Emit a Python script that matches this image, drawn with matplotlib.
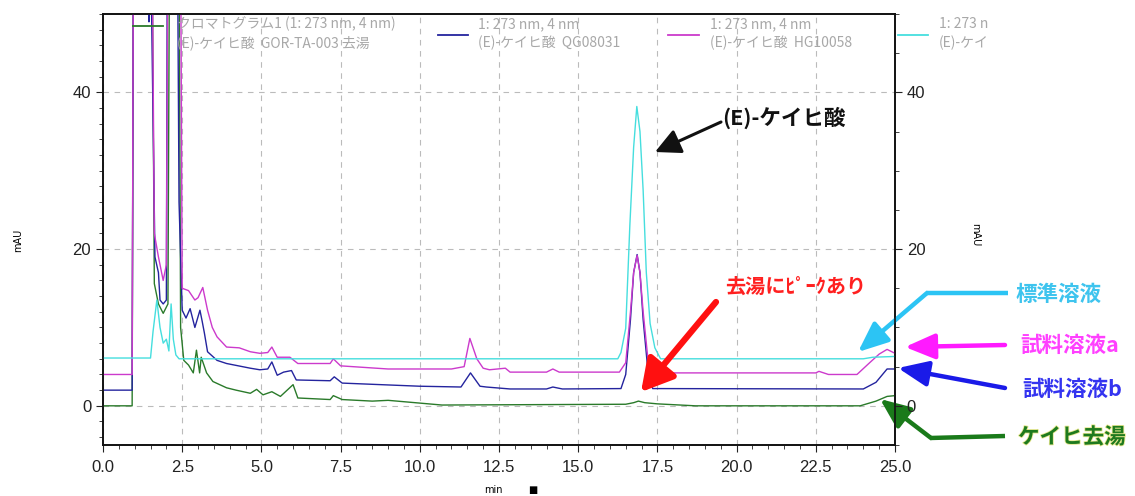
import matplotlib
matplotlib.use("Agg")
import matplotlib.pyplot as plt
from matplotlib.lines import Line2D
from matplotlib.ticker import MultipleLocator
import matplotlib.patheffects as pe

plt.rcParams['font.family'] = ['Noto Sans CJK JP', 'DejaVu Sans']

# ---------------- data ----------------
# standard solution (cyan)
t_std = [0, 1.50, 1.58, 1.70, 1.80, 1.90, 2.00, 2.08, 2.15, 2.22, 2.30, 2.40, 5.0, 10.0,
         16.25, 16.35, 16.5, 16.63, 16.75, 16.85, 16.95, 17.05, 17.15, 17.27, 17.42, 17.6,
         24.0, 24.3, 25.0]
y_std = [6.1, 6.1, 9.5, 13.5, 10.0, 8.0, 8.5, 7.0, 13.0, 8.5, 6.5, 6.0, 6.0, 6.0,
         6.0, 6.8, 9.9, 23.0, 33.0, 38.2, 35.0, 27.5, 17.0, 10.5, 7.4, 6.0,
         6.0, 6.2, 6.3]

# sample solution a (magenta)
t_a = [0, 0.92, 0.96, 1.55, 1.62, 1.75, 1.90, 2.00, 2.05, 2.45, 2.50, 2.7, 2.9, 3.0, 3.15,
       3.3, 3.45, 3.6, 3.9, 4.3, 4.65, 4.95, 5.2, 5.33, 5.5, 5.9, 6.15, 7.17, 7.27, 7.5,
       9.0, 11.0, 11.4, 11.58, 11.8, 12.0, 12.2, 12.7, 12.85, 14.0, 14.2, 14.4, 16.3, 16.5,
       16.65, 16.75, 16.86, 16.95, 17.05, 17.2, 17.35, 18.0, 22.5, 22.6, 22.9, 23.8, 24.2,
       24.5, 24.75, 25.0]
y_a = [4.0, 4.0, 60, 60, 22, 19, 16, 18, 60, 60, 15, 14.7, 13.5, 13.8, 15.1,
       12.2, 10, 8.8, 7.5, 7.4, 6.9, 6.7, 6.8, 7.5, 6.2, 6.2, 5.4, 5.4, 6.0, 5.1,
       4.7, 4.7, 5.0, 8.6, 6.0, 4.8, 4.6, 4.8, 4.3, 4.3, 4.7, 4.3, 4.3, 5.5,
       12, 17, 19.2, 17, 12, 6, 4.4, 4.2, 4.2, 4.4, 4.0, 4.0, 5.5,
       6.6, 7.2, 6.7]

# sample solution b (blue)
t_b = [0, 0.92, 0.96, 1.40, 1.45, 1.50, 1.64, 1.75, 1.80, 1.90, 2.00, 2.03, 2.35, 2.40,
       2.50, 2.62, 2.75, 2.9, 3.06, 3.13, 3.2, 3.3, 3.6, 3.9, 4.65, 4.95, 5.2, 5.33, 5.5,
       5.7, 5.95, 6.1, 7.17, 7.3, 7.55, 10.0, 11.3, 11.6, 11.9, 12.1, 12.85, 14.0, 14.2,
       14.5, 16.35, 16.5, 16.65, 16.75, 16.86, 16.95, 17.05, 17.2, 17.35, 24.0, 24.4,
       24.75, 25.0]
y_b = [2.0, 2.0, 60, 60, 49, 60, 19, 17, 13.5, 13, 13.5, 60, 60, 26,
       12.2, 11.2, 12.4, 10, 12.2, 10.8, 9.3, 6.9, 5.8, 5.4, 4.8, 4.6, 4.7, 5.6, 3.9,
       4.3, 4.5, 3.3, 3.2, 3.7, 2.9, 2.5, 2.4, 4.2, 2.5, 2.4, 2.15, 2.15, 2.4,
       2.15, 2.2, 4.0, 11, 17, 19.3, 17, 11, 4.5, 2.2, 2.15, 3.0,
       4.7, 4.7]

# cinnamon-free decoction (green)
t_g = [0, 0.92, 0.96, 1.55, 1.62, 1.75, 1.90, 2.05, 2.10, 2.40, 2.45, 2.55, 2.7, 2.85,
       2.95, 3.05, 3.1, 3.27, 3.47, 3.9, 4.2, 4.65, 4.85, 5.05, 5.33, 5.6, 6.0, 6.15,
       7.17, 7.27, 7.55, 8.5, 9.0, 10.7, 16.5, 16.75, 16.9, 17.1, 17.5, 18.7, 23.9,
       24.4, 24.75, 25.0]
y_g = [0, 0, 60, 60, 15.6, 13, 11.8, 13, 60, 60, 10, 5.8, 5.2, 4.2,
       7.1, 4.2, 6.2, 4.2, 3.1, 2.3, 2.0, 1.6, 2.1, 1.4, 1.8, 1.2, 2.7, 1.0,
       0.8, 1.3, 0.8, 0.6, 0.7, 0.1, 0.2, 0.4, 0.6, 0.4, 0.25, 0.0, 0.0,
       0.6, 1.2, 1.3]

x_ticks = [0.0, 2.5, 5.0, 7.5, 10.0, 12.5, 15.0, 17.5, 20.0, 22.5, 25.0]
y_ticks = [0, 20, 40]

legend_line1 = ["クロマトグラム1 (1: 273 nm, 4 nm)", "1: 273 nm, 4 nm", "1: 273 nm, 4 nm", "1: 273 n"]
legend_line2 = ["(E)-ケイヒ酸  GOR-TA-003 去湯", "(E)-ケイヒ酸  QG08031",
                "(E)-ケイヒ酸  HG10058", "(E)-ケイ"]

c_std = '#45dede'
c_a = '#cc3acc'
c_b = '#24249e'
c_g = '#2a7a2a'

W, H = 1135, 496
fig = plt.figure(figsize=(W / 100, H / 100), dpi=100)
ax = fig.add_axes([103 / W, 1 - 445 / H, (895 - 103) / W, (445 - 14) / H])

ax.plot(t_g, y_g, color=c_g, lw=1.0, zorder=3)
ax.plot(t_b, y_b, color=c_b, lw=1.0, zorder=4)
ax.plot(t_a, y_a, color=c_a, lw=1.0, zorder=5)
ax.plot(t_std, y_std, color=c_std, lw=1.0, zorder=6)

ax.set_xlim(0, 25)
ax.set_ylim(-5, 50)

num_font = ['Liberation Sans Narrow', 'Liberation Sans', 'DejaVu Sans']
ax.set_xticks(x_ticks)
ax.set_xticklabels([f"{v:.1f}" for v in x_ticks], family=num_font, fontsize=12)
ax.xaxis.set_minor_locator(MultipleLocator(0.5))
ax.set_yticks(y_ticks)
ax.set_yticklabels([str(v) for v in y_ticks], family=num_font, fontsize=12)
ax.yaxis.set_minor_locator(MultipleLocator(2))
ax.tick_params(axis='both', which='major', direction='out', length=5, width=0.8, colors='#222222')
ax.tick_params(axis='x', which='major', pad=6)
ax.tick_params(axis='both', which='minor', direction='out', length=3, width=0.6, colors='#222222')

ax.grid(True, which='major', color='#bbbbbb', linestyle=(0, (5, 5)), lw=0.8)
for s in ax.spines.values():
    s.set_linewidth(1.2)
    s.set_color('#111111')

# right axis
ax2 = ax.twinx()
ax2.set_ylim(-5, 50)
ax2.set_yticks(y_ticks)
ax2.set_yticklabels([str(v) for v in y_ticks], family=num_font, fontsize=12)
ax2.yaxis.set_minor_locator(MultipleLocator(5))
ax2.tick_params(axis='y', which='major', direction='out', length=5, width=0.8, colors='#222222')
ax2.tick_params(axis='y', which='minor', direction='out', length=3, width=0.6, colors='#222222')
for s in ax2.spines.values():
    s.set_linewidth(1.2)
    s.set_color('#111111')


def P(x, y):
    return (x / W, 1 - y / H)


fig.text(*P(18, 240), "mAU", rotation=90, fontsize=7, ha='center', va='center', family='DejaVu Sans')
fig.text(*P(975, 235), "mAU", rotation=270, fontsize=7, ha='center', va='center', family='DejaVu Sans')
fig.text(*P(493, 490), "min", fontsize=7, ha='center', va='center', family='DejaVu Sans')
fig.text(*P(533, 490), "■", fontsize=7, ha='center', va='center', family='DejaVu Sans')

# legend-like header
leg_lines = [(133, 163, 26, c_g), (438, 468, 35, c_b), (668, 699, 35, c_a), (898, 928, 35, c_std)]
leg_text_x = [177, 478, 710, 939]
for (x0, x1, yy, col), tx, l1, l2 in zip(leg_lines, leg_text_x, legend_line1, legend_line2):
    fig.add_artist(Line2D([x0 / W, x1 / W], [1 - yy / H, 1 - yy / H], color=col, lw=1.3,
                          transform=fig.transFigure, zorder=10))
    fig.text(*P(tx, 24), l1, fontsize=10, color='#a8a8a8', ha='left', va='center', zorder=10)
    fig.text(*P(tx, 43), l2, fontsize=10, color='#a8a8a8', ha='left', va='center', zorder=10)


def arrow(tail, tip, color, lw, ms=16, hl=1.0, hw=0.5):
    ax.annotate('', xy=P(*tip), xycoords='figure fraction',
                xytext=P(*tail), textcoords='figure fraction',
                arrowprops=dict(arrowstyle=f'-|>,head_length={hl},head_width={hw}',
                                color=color, lw=lw, mutation_scale=ms, shrinkA=0, shrinkB=0),
                annotation_clip=False, zorder=20)


def seg(p0, p1, color, lw):
    fig.add_artist(Line2D([p0[0] / W, p1[0] / W], [1 - p0[1] / H, 1 - p1[1] / H],
                          color=color, lw=lw, transform=fig.transFigure, zorder=20,
                          solid_capstyle='butt'))


# (E)-cinnamic acid label
fig.text(*P(722, 118), "(E)-ケイヒ酸", fontsize=15.5, color='#111111', ha='left', va='center',
         fontweight='bold')
arrow((721, 122), (655, 152), '#111111', 2.2, ms=14, hl=1.1, hw=0.55)

# peak in decoction
fig.text(*P(725, 286), "去湯にﾋﾟｰｸあり", fontsize=14.5, color='#ff2020', ha='left', va='center',
         fontweight='bold')
arrow((716, 302), (641, 392), '#ff1010', 4.5, ms=12, hl=1.6, hw=0.9)

# right side labels
fig.text(*P(1015, 294), "標準溶液", fontsize=15.5, color='#3ec4ee', ha='left', va='center',
         fontweight='bold')
seg((1008, 293), (926, 293), '#2cc4f4', 3.2)
arrow((927, 293), (858, 352), '#2cc4f4', 3.2, ms=14, hl=1.3, hw=0.55)

fig.text(*P(1020, 345), "試料溶液a", fontsize=15.5, color='#ff40ff', ha='left', va='center',
         fontweight='bold')
arrow((1005, 345), (905, 347), '#ff1aff', 3.2, ms=14, hl=1.3, hw=0.55)

fig.text(*P(1022, 389), "試料溶液b", fontsize=15.5, color='#3434f0', ha='left', va='center',
         fontweight='bold')
arrow((1005, 388), (898, 368), '#1a1ae8', 3.2, ms=14, hl=1.3, hw=0.55)

fig.text(*P(1018, 437), "ケイヒ去湯", fontsize=15.5, color='#1e7a1e', ha='left', va='center',
         fontweight='bold',
         path_effects=[pe.withStroke(linewidth=1.2, foreground='#e8e890')])
seg((1005, 436), (930, 438), '#1a7a1a', 3.2)
arrow((931, 438), (880, 399), '#1a7a1a', 3.2, ms=14, hl=1.3, hw=0.55)

fig.savefig('out.png', dpi=100)
